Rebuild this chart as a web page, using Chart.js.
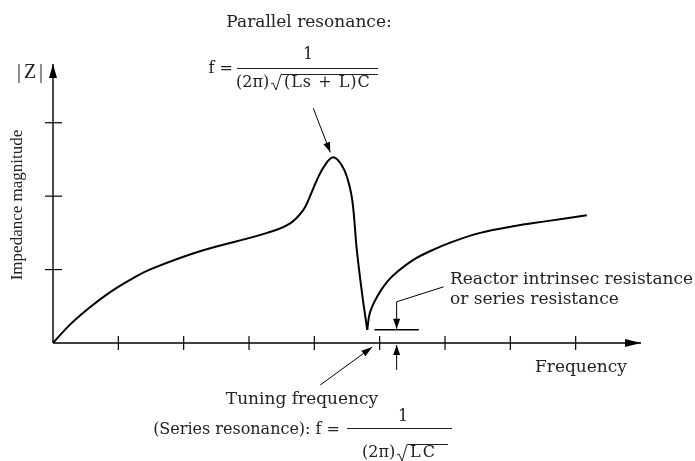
<!DOCTYPE html>
<html>
<head>
<meta charset="utf-8">
<script src="https://cdn.jsdelivr.net/npm/chart.js@4/dist/chart.umd.min.js"></script>
<style>
    html, body { margin: 0; padding: 0; background: #fff; }
    #wrap { width: 695px; height: 461px; position: relative; }
</style>
</head>
<body>
<div id="wrap"><canvas id="impedanceChart"></canvas></div>
<script>
// Impedance |Z| of a tuned filter vs. frequency (arbitrary units)
const freq = [0, 0.26, 0.57, 0.87, 1.18, 1.48, 2.25, 3.28, 3.63, 3.83, 3.93, 4.04, 4.16,
              4.29, 4.42, 4.50, 4.58, 4.65, 4.73, 4.81, 4.85, 4.96, 5.11, 5.27, 5.51, 5.77,
              6.12, 6.54, 7.04, 7.56, 8.17];
const impedance = [0, 0.25, 0.49, 0.69, 0.86, 1.00, 1.25, 1.50, 1.63, 1.81, 1.99, 2.22, 2.42,
                   2.53, 2.42, 2.26, 1.95, 1.27, 0.68, 0.18, 0.41, 0.63, 0.83, 0.97, 1.13, 1.25,
                   1.38, 1.50, 1.59, 1.66, 1.74];

// tick positions on the two axes
const xTicks = [1, 2, 3, 4, 5, 6, 7, 8];
const yTicks = [1, 2, 3];

// span of the series-resistance bar (frequency units)
const resistanceSpan = [4.92, 5.6];

const serif = '"DejaVu Serif", serif';
const times = '"Liberation Serif", serif';
const ink = '#000';
const textInk = '#222';

// the series resonance is a cusp: split the curve there so each side is smoothed on its own
const iPeak = impedance.indexOf(Math.max(...impedance));
const iNotch = impedance.indexOf(Math.min(...impedance.slice(iPeak)), iPeak);
const points = freq.map((f, i) => ({x: f, y: impedance[i]}));

function arrowHead(ctx, x1, y1, x2, y2, len, half) {
    const a = Math.atan2(y2 - y1, x2 - x1);
    ctx.beginPath();
    ctx.moveTo(x2, y2);
    ctx.lineTo(x2 - len * Math.cos(a) + half * Math.sin(a), y2 - len * Math.sin(a) - half * Math.cos(a));
    ctx.lineTo(x2 - len * Math.cos(a) - half * Math.sin(a), y2 - len * Math.sin(a) + half * Math.cos(a));
    ctx.closePath();
    ctx.fill();
}

function arrow(ctx, x1, y1, x2, y2, len, half) {
    ctx.beginPath();
    ctx.moveTo(x1, y1);
    ctx.lineTo(x2, y2);
    ctx.stroke();
    arrowHead(ctx, x1, y1, x2, y2, len, half);
}

// radical sign with its overline
function radical(ctx, x, top, bottom, endX) {
    ctx.beginPath();
    ctx.moveTo(x, bottom - 6);
    ctx.lineTo(x + 2, bottom - 7);
    ctx.lineTo(x + 5, bottom);
    ctx.lineTo(x + 10, top);
    ctx.lineTo(endX, top);
    ctx.stroke();
}

function text(ctx, str, x, y, align, spacing) {
    ctx.textAlign = align || 'left';
    ctx.letterSpacing = spacing || '0px';
    ctx.fillText(str, x, y);
    ctx.letterSpacing = '0px';
}

const diagramPlugin = {
    id: 'diagram',
    afterDraw(chart) {
        const ctx = chart.ctx;
        const xs = chart.scales.x, ys = chart.scales.y;
        const x0 = xs.getPixelForValue(0), y0 = ys.getPixelForValue(0);
        const xEnd = xs.getPixelForValue(xs.max), yEnd = ys.getPixelForValue(ys.max);

        ctx.save();
        ctx.strokeStyle = ink;
        ctx.fillStyle = ink;
        ctx.lineWidth = 1.4;

        // axes with arrow heads
        arrow(ctx, x0, y0, x0, yEnd, 14, 4);
        arrow(ctx, x0, y0, xEnd, y0, 16, 4);

        ctx.lineWidth = 1.2;
        xTicks.forEach(v => {
            const px = xs.getPixelForValue(v);
            ctx.beginPath(); ctx.moveTo(px, y0 - 7); ctx.lineTo(px, y0 + 7); ctx.stroke();
        });
        yTicks.forEach(v => {
            const py = ys.getPixelForValue(v);
            ctx.beginPath(); ctx.moveTo(x0 - 8, py); ctx.lineTo(x0 + 9, py); ctx.stroke();
        });

        // parallel resonance pointer, aimed at the maximum of the curve
        const pkX = xs.getPixelForValue(freq[iPeak]), pkY = ys.getPixelForValue(impedance[iPeak]);
        ctx.lineWidth = 1;
        arrow(ctx, pkX - 20, pkY - 49, pkX - 3, pkY - 5, 10, 3.5);

        // series resistance bar at the level of the notch
        const rY = ys.getPixelForValue(impedance[iNotch]);
        const rA = xs.getPixelForValue(resistanceSpan[0]), rB = xs.getPixelForValue(resistanceSpan[1]);
        const rMid = (rA + rB) / 2;
        ctx.lineWidth = 1.4;
        ctx.beginPath(); ctx.moveTo(rA, rY); ctx.lineTo(rB, rY); ctx.stroke();
        ctx.lineWidth = 1;
        ctx.beginPath(); ctx.moveTo(rMid + 47, rY - 43); ctx.lineTo(rMid, rY - 28); ctx.stroke();
        arrow(ctx, rMid, rY - 28, rMid, rY - 1, 10, 3.5);
        arrow(ctx, rMid, y0 + 27, rMid, y0 + 2, 10, 3.5);

        // tuning frequency pointer
        const tX = xs.getPixelForValue(freq[iNotch]);
        arrow(ctx, tX - 47, y0 + 42, tX + 5, y0 + 4, 11, 3.5);

        // labels
        ctx.fillStyle = textInk;
        ctx.textBaseline = 'middle';
        ctx.font = '17px ' + serif;
        text(ctx, 'Parallel resonance:', 309, 23, 'center');
        text(ctx, 'Frequency', 535, 368);
        text(ctx, 'Reactor intrinsec resistance', 450, 280);
        text(ctx, 'or series resistance', 450, 300);
        text(ctx, 'Tuning frequency', 302, 400, 'center');

        ctx.font = '20px ' + times;
        text(ctx, '|', 19, 73, 'center');
        text(ctx, 'Z', 30, 73, 'center');
        text(ctx, '|', 41, 73, 'center');

        ctx.save();
        ctx.translate(18, 205);
        ctx.rotate(-Math.PI / 2);
        ctx.font = '17px ' + times;
        text(ctx, 'Impedance magnitude', 0, 0, 'center');
        ctx.restore();

        // parallel resonance formula
        ctx.strokeStyle = textInk;
        ctx.lineWidth = 1;
        ctx.font = '16px ' + serif;
        text(ctx, 'f =', 233, 69, 'right');
        ctx.beginPath(); ctx.moveTo(237, 68.5); ctx.lineTo(378, 68.5); ctx.stroke();
        text(ctx, '1', 308, 55, 'center');
        text(ctx, '(2\u03c0)', 236, 83);
        radical(ctx, 271, 74.5, 90, 378);
        text(ctx, '(Ls + L)C', 284, 83, 'left', '1px');

        // series resonance formula
        text(ctx, '(Series resonance): f =', 340, 430, 'right');
        ctx.beginPath(); ctx.moveTo(347, 428.5); ctx.lineTo(452, 428.5); ctx.stroke();
        text(ctx, '1', 403, 417, 'center');
        text(ctx, '(2\u03c0)', 362, 453);
        radical(ctx, 397, 444.5, 461, 448);
        text(ctx, 'LC', 410, 453, 'left', '2px');

        ctx.restore();
    }
};

const curveStyle = {
    borderColor: ink,
    borderWidth: 2,
    pointRadius: 0,
    fill: false,
    tension: 0.4
};

new Chart(document.getElementById('impedanceChart'), {
    type: 'line',
    data: {
        datasets: [
            Object.assign({label: '|Z| below tuning', data: points.slice(0, iNotch + 1)}, curveStyle),
            Object.assign({label: '|Z| above tuning', data: points.slice(iNotch)}, curveStyle)
        ]
    },
    options: {
        responsive: true,
        maintainAspectRatio: false,
        animation: false,
        layout: {padding: {left: 53, right: 54, top: 64, bottom: 118}},
        plugins: {legend: {display: false}, tooltip: {enabled: false}},
        scales: {
            x: {type: 'linear', min: 0, max: 9, display: false},
            y: {type: 'linear', min: 0, max: 3.8, display: false}
        }
    },
    plugins: [diagramPlugin]
});
</script>
</body>
</html>
